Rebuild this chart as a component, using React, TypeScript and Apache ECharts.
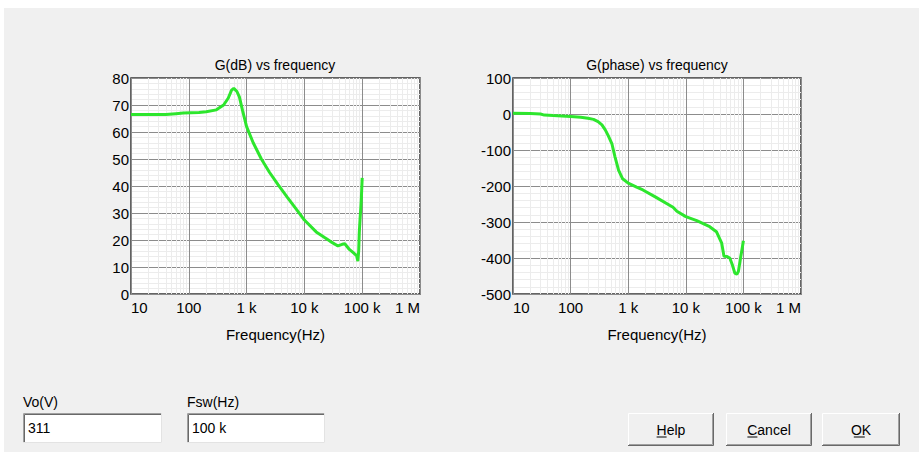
import React, { useEffect, useRef } from 'react';
import * as echarts from 'echarts';

const freqTickLabels = ['10', '100', '1 k', '10 k', '100 k', '1 M'];

const gainFreq = [10, 20, 40, 60, 80, 150, 200, 300, 400, 480, 550, 600, 680, 750, 850, 1000, 1300, 1800, 2500, 3500, 5000, 7500, 10000, 16000, 22000, 28000, 38000, 45000, 50000, 60000, 70000, 80000, 84000, 87000, 89000, 92000, 96000, 100000];
const gainDb = [66.5, 66.5, 66.5, 66.8, 67, 67.2, 67.5, 68.2, 70, 72.5, 75.5, 76.2, 75, 73, 68, 62, 56, 50, 45, 40.5, 36, 31, 27.4, 23, 21, 19.5, 17.8, 18.4, 18.6, 16.5, 15.3, 14.2, 12.2, 16, 22.6, 28, 34, 43];

const phaseFreq = [10, 20, 30, 35, 50, 100, 150, 200, 250, 300, 350, 400, 450, 520, 590, 680, 800, 1000, 1400, 1800, 3000, 6000, 7000, 10000, 15500, 26000, 34000, 42000, 46000, 52000, 58000, 64000, 71000, 77000, 82000, 89000, 97000, 100000];
const phaseDeg = [2, 1.5, 0, -3, -4.5, -7, -9, -12, -15, -21, -30, -44, -60, -82, -119, -156, -180, -192, -203, -211, -231, -259, -270, -285, -296, -313, -327, -359, -395, -396, -400, -418, -442, -445, -437, -401, -365, -352];

const decades = [10, 100, 1000, 10000, 100000];
const minorMultipliers = [2, 3, 4, 5, 6, 7, 8, 9];

const FONT = "'Liberation Sans', Arial, sans-serif";
const GREEN = '#2de62d';
const MINOR = '#ececec';

function fmtFreq(v: number) {
  const idx = Math.round(Math.log10(v)) - 1;
  return freqTickLabels[idx] ?? '';
}

function makeX(gridIndex: number) {
  return {
    type: 'log',
    logBase: 10,
    gridIndex,
    min: 10,
    max: 1000000,
    name: 'Frequency(Hz)',
    nameLocation: 'middle',
    nameGap: 33,
    nameTextStyle: { color: '#000', fontSize: 15, fontFamily: FONT },
    axisLine: { show: false },
    axisTick: { show: false },
    axisLabel: {
      color: '#000',
      fontSize: 15,
      fontFamily: FONT,
      margin: 6,
      formatter: fmtFreq,
      alignMinLabel: 'left',
      alignMaxLabel: 'right',
      showMinLabel: true,
      showMaxLabel: true,
    },
    splitLine: { show: true, lineStyle: { color: '#8c8c8c', width: 1 } },
  };
}

function makeY(gridIndex: number, min: number, max: number, interval: number) {
  return {
    type: 'value',
    gridIndex,
    min,
    max,
    interval,
    axisLine: { show: false },
    axisTick: { show: false },
    axisLabel: { color: '#000', fontSize: 15, fontFamily: FONT, margin: 2 },
    splitLine: { show: true, lineStyle: { color: '#8c8c8c', width: 1 } },
    minorTick: { show: false, splitNumber: 5 },
    minorSplitLine: { show: true, lineStyle: { color: MINOR, width: 1 } },
  };
}

function minorHelper(idx: number) {
  const marks: any[] = [];
  decades.forEach((d) => minorMultipliers.forEach((m) => marks.push({ xAxis: d * m })));
  return {
    type: 'line',
    xAxisIndex: idx,
    yAxisIndex: idx,
    data: [[10, idx === 0 ? 0 : -500]],
    symbol: 'none',
    silent: true,
    lineStyle: { opacity: 0 },
    z: 1,
    markLine: {
      silent: true,
      animation: false,
      symbol: ['none', 'none'],
      label: { show: false },
      emphasis: { disabled: true },
      lineStyle: { color: MINOR, type: 'solid', width: 1 },
      data: marks,
    },
  };
}

function textbox(x: number, y: number, w: number, h: number, value: string) {
  return [
    { type: 'rect', shape: { x, y, width: w, height: h }, style: { fill: '#ffffff' } },
    { type: 'polyline', shape: { points: [[x + 0.5, y + h], [x + 0.5, y + 0.5], [x + w, y + 0.5]] }, style: { stroke: '#a0a0a0', lineWidth: 1, fill: null } },
    { type: 'polyline', shape: { points: [[x + 1.5, y + h - 1], [x + 1.5, y + 1.5], [x + w - 1, y + 1.5]] }, style: { stroke: '#696969', lineWidth: 1, fill: null } },
    { type: 'polyline', shape: { points: [[x, y + h - 0.5], [x + w - 0.5, y + h - 0.5], [x + w - 0.5, y]] }, style: { stroke: '#e3e3e3', lineWidth: 1, fill: null } },
    { type: 'text', x: x + 5, y: y + h / 2, style: { text: value, fill: '#000', fontSize: 14, fontFamily: FONT, verticalAlign: 'middle', align: 'left' } },
  ];
}

function button(x: number, y: number, w: number, h: number, label: string, ulWidth: number) {
  const tw = label.length * 7.2;
  const cx = x + w / 2;
  return [
    { type: 'rect', shape: { x, y, width: w, height: h }, style: { fill: '#f0f0f0' } },
    { type: 'polyline', shape: { points: [[x + 0.5, y + h - 1], [x + 0.5, y + 0.5], [x + w - 1, y + 0.5]] }, style: { stroke: '#ffffff', lineWidth: 1, fill: null } },
    { type: 'polyline', shape: { points: [[x, y + h - 0.5], [x + w - 0.5, y + h - 0.5], [x + w - 0.5, y]] }, style: { stroke: '#696969', lineWidth: 1, fill: null } },
    { type: 'polyline', shape: { points: [[x + 1, y + h - 1.5], [x + w - 1.5, y + h - 1.5], [x + w - 1.5, y + 1]] }, style: { stroke: '#a0a0a0', lineWidth: 1, fill: null } },
    { type: 'text', x: cx, y: y + h / 2, style: { text: label, fill: '#000', fontSize: 14, fontFamily: FONT, verticalAlign: 'middle', align: 'center' } },
    { type: 'line', shape: { x1: cx - tw / 2, y1: y + h / 2 + 7.5, x2: cx - tw / 2 + ulWidth, y2: y + h / 2 + 7.5 }, style: { stroke: '#000', lineWidth: 1 } },
  ];
}

export default function App() {
  const ref = useRef<HTMLDivElement>(null);
  useEffect(() => {
    if (!ref.current) return;
    const chart = echarts.init(ref.current, undefined, { renderer: 'svg' });
    const gridBase = { show: true, backgroundColor: '#ffffff', borderColor: '#333333', borderWidth: 1.5, top: 78, height: 216, containLabel: false };
    const option: any = {
      animation: false,
      backgroundColor: '#f0f0f0',
      grid: [
        { ...gridBase, left: 131, width: 289 },
        { ...gridBase, left: 513, width: 288 },
      ],
      xAxis: [makeX(0), makeX(1)],
      yAxis: [makeY(0, 0, 80, 10), makeY(1, -500, 100, 100)],
      series: [
        minorHelper(0),
        minorHelper(1),
        {
          type: 'line',
          name: 'G(dB)',
          xAxisIndex: 0,
          yAxisIndex: 0,
          data: gainFreq.map((f, i) => [f, gainDb[i]]),
          showSymbol: false,
          symbol: 'none',
          lineStyle: { color: GREEN, width: 3 },
          z: 5,
        },
        {
          type: 'line',
          name: 'G(phase)',
          xAxisIndex: 1,
          yAxisIndex: 1,
          data: phaseFreq.map((f, i) => [f, phaseDeg[i]]),
          showSymbol: false,
          symbol: 'none',
          lineStyle: { color: GREEN, width: 3 },
          z: 5,
        },
      ],
      graphic: [
        { type: 'rect', shape: { x: 0, y: 0, width: 919, height: 8 }, style: { fill: '#ffffff' }, silent: true },
        { type: 'rect', shape: { x: 0, y: 0, width: 4, height: 452 }, style: { fill: '#ffffff' }, silent: true },
        { type: 'text', x: 275, y: 65, style: { text: 'G(dB) vs frequency', fill: '#000', fontSize: 14, fontFamily: FONT, align: 'center', verticalAlign: 'middle' } },
        { type: 'text', x: 657, y: 65, style: { text: 'G(phase) vs frequency', fill: '#000', fontSize: 14, fontFamily: FONT, align: 'center', verticalAlign: 'middle' } },
        { type: 'text', x: 23, y: 402, style: { text: 'Vo(V)', fill: '#000', fontSize: 14, fontFamily: FONT, align: 'left', verticalAlign: 'middle' } },
        { type: 'text', x: 187, y: 402, style: { text: 'Fsw(Hz)', fill: '#000', fontSize: 14, fontFamily: FONT, align: 'left', verticalAlign: 'middle' } },
        ...textbox(23, 413, 139, 30, '311'),
        ...textbox(187, 413, 138, 30, '100 k'),
        ...button(628, 413, 86, 33, 'Help', 10),
        ...button(726, 413, 86, 33, 'Cancel', 10),
        ...button(822, 413, 78, 33, 'OK', 11),
      ],
    };
    chart.setOption(option);
    return () => chart.dispose();
  }, []);
  return <div ref={ref} style={{ position: 'absolute', left: 0, top: 0, width: 919, height: 452 }} />;
}
